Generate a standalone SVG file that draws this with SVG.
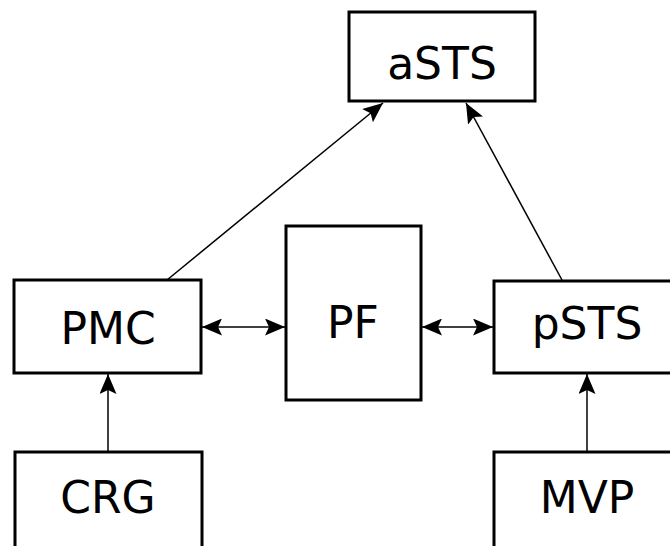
<svg xmlns="http://www.w3.org/2000/svg" width="670" height="546" viewBox="0 0 670 546">
<defs>
<style>
.box{fill:#fff;stroke:#000;stroke-width:3}
.lbl{font-family:"DejaVu Sans",sans-serif;font-size:44px;fill:#000;text-anchor:middle}
.edge{stroke:#000;stroke-width:1.5;fill:none}
</style>
<marker id="ah" viewBox="0 0 20 17" refX="20" refY="8.5" markerWidth="20" markerHeight="17" markerUnits="userSpaceOnUse" orient="auto-start-reverse">
<path d="M0,0 L20,8.5 L0,17 L4,8.5 Z" fill="#000"/>
</marker>
</defs>
<g id="connectors">
<line class="edge" x1="167" y1="280" x2="383" y2="103" marker-end="url(#ah)"/>
<line class="edge" x1="562" y1="280" x2="466" y2="103" marker-end="url(#ah)"/>
<line class="edge" x1="202" y1="327" x2="285" y2="327" marker-start="url(#ah)" marker-end="url(#ah)"/>
<line class="edge" x1="422" y1="327" x2="493" y2="327" marker-start="url(#ah)" marker-end="url(#ah)"/>
<line class="edge" x1="108" y1="452" x2="108" y2="374" marker-end="url(#ah)"/>
<line class="edge" x1="587" y1="452" x2="587" y2="374" marker-end="url(#ah)"/>
</g>
<g id="aSTS"><rect class="box" x="349" y="12" width="186" height="89"/><text class="lbl" x="442" y="79">aSTS</text></g>
<g id="PMC"><rect class="box" x="14" y="280" width="187" height="93"/><text class="lbl" x="108" y="344">PMC</text></g>
<g id="PF"><rect class="box" x="286" y="226" width="135" height="174"/><text class="lbl" x="353" y="338">PF</text></g>
<g id="pSTS"><rect class="box" x="494" y="281" width="180" height="92"/><text class="lbl" x="587" y="339">pSTS</text></g>
<g id="CRG"><rect class="box" x="15" y="452" width="187" height="100"/><text class="lbl" x="108" y="513">CRG</text></g>
<g id="MVP"><rect class="box" x="494" y="452" width="180" height="100"/><text class="lbl" x="587" y="513">MVP</text></g>
</svg>
